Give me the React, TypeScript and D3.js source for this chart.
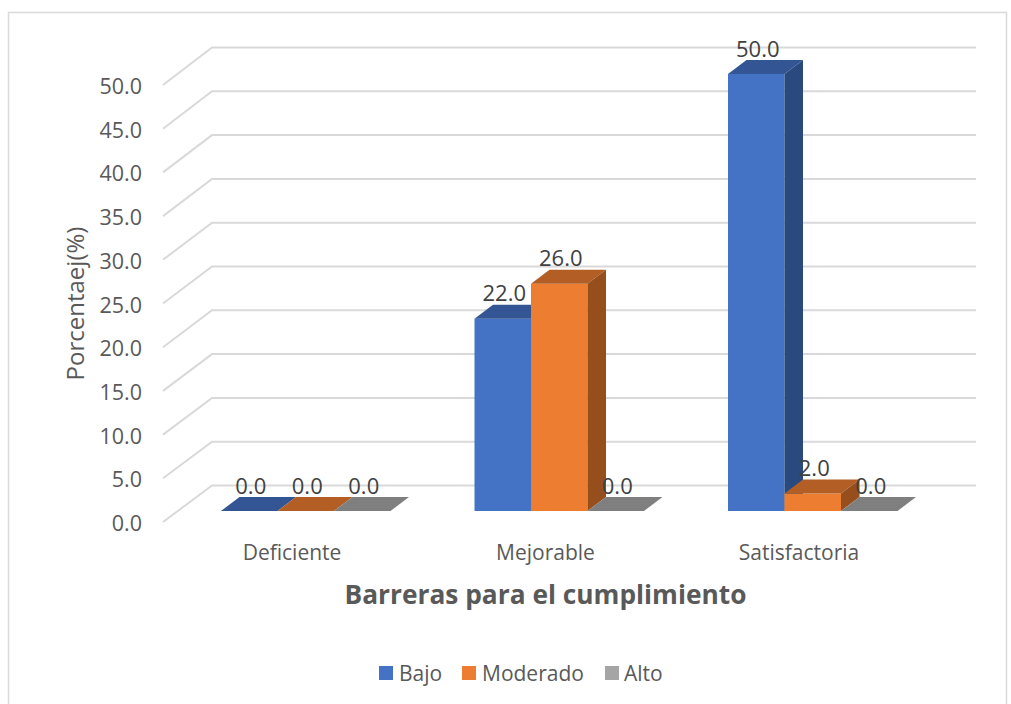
import React from "react";
import * as d3 from "d3";

const categories = ["Deficiente", "Mejorable", "Satisfactoria"];
const seriesNames = ["Bajo", "Moderado", "Alto"];
const bajo = [0, 22, 50];
const moderado = [0, 26, 2];
const alto = [0, 0, 0];
const ticks = [0, 5, 10, 15, 20, 25, 30, 35, 40, 45, 50];
const seriesValues = [bajo, moderado, alto];

const front = ["#4472c4", "#ed7d31", "#a5a5a5"];
const top = ["#335593", "#b25e24", "#7f7f7f"];
const side = ["#2a4a7f", "#964f1c", "#6a6a6a"];
const legendSwatch = ["#4472c4", "#ed7d31", "#a5a5a5"];

const FONT = "'Open Sans', 'Noto Sans', sans-serif";
const TXT = "#595959";
const GRID = "#d9d9d9";

const barY = d3.scaleLinear().domain([0, 50]).range([511, 74]);
const wallY = d3.scaleLinear().domain([0, 50]).range([485.5, 47.5]);
const floorY = d3.scaleLinear().domain([0, 50]).range([522, 85]);
const groupX = d3.scaleBand<string>().domain(categories).range([221, 981.5]).paddingInner(0).paddingOuter(0);
const barW = 56.5;
const dx = 18.5;
const dy = 14;

const poly = (pts: [number, number][]) => pts.map((p) => p.join(",")).join(" ");

const legendPos = [
  { sx: 379, tx: 399 },
  { sx: 462, tx: 482 },
  { sx: 605, tx: 624 },
];

export default function App() {
  return (
    <svg
      width={1011}
      height={704}
      viewBox="0 0 1011 704"
      style={{ position: "absolute", left: 0, top: 0, background: "#fff" }}
    >
      <path d="M8.5 704V12.5H1006.5V704" fill="none" stroke={GRID} strokeWidth={1.5} />
      {ticks.map((t) => (
        <polyline
          key={t}
          points={poly([
            [163, floorY(t)],
            [212, wallY(t)],
            [976, wallY(t)],
          ])}
          fill="none"
          stroke={GRID}
          strokeWidth={2}
        />
      ))}
      {ticks.map((t) => (
        <text key={t} x={142} y={floorY(t) + 9} textAnchor="end" fontFamily={FONT} fontSize={21.5} fill={TXT}>
          {t.toFixed(1)}
        </text>
      ))}
      <text
        transform="translate(84,303.5) rotate(-90)"
        textAnchor="middle"
        fontFamily={FONT}
        fontSize={24}
        fill={TXT}
      >
        Porcentaej(%)
      </text>
      {categories.map((c, ci) =>
        seriesValues.map((vals, si) => {
          const x0 = (groupX(c) as number) + si * barW;
          const x1 = x0 + barW;
          const y0 = barY(0);
          const y1 = barY(vals[ci]);
          return (
            <g key={c + si}>
              {vals[ci] > 0 && (
                <rect x={x0} y={y1} width={barW} height={y0 - y1} fill={front[si]} />
              )}
              <polygon
                points={poly([
                  [x0, y1],
                  [x0 + dx, y1 - dy],
                  [x1 + dx, y1 - dy],
                  [x1, y1],
                ])}
                fill={top[si]}
              />
              {vals[ci] > 0 && (
                <polygon
                  points={poly([
                    [x1, y1],
                    [x1 + dx, y1 - dy],
                    [x1 + dx, y0 - dy],
                    [x1, y0],
                  ])}
                  fill={side[si]}
                />
              )}
            </g>
          );
        })
      )}
      {categories.map((c, ci) =>
        seriesValues.map((vals, si) => (
          <text
            key={c + si}
            x={(groupX(c) as number) + si * barW + barW / 2 + 1.5}
            y={barY(vals[ci]) - dy - 3.5}
            textAnchor="middle"
            fontFamily={FONT}
            fontSize={22}
            fill="#404040"
          >
            {vals[ci].toFixed(1)}
          </text>
        ))
      )}
      {categories.map((c) => (
        <text
          key={c}
          x={(groupX(c) as number) + 71}
          y={559.5}
          textAnchor="middle"
          fontFamily={FONT}
          fontSize={21}
          fill={TXT}
        >
          {c}
        </text>
      ))}
      <text x={545.5} y={604} textAnchor="middle" fontFamily={FONT} fontSize={26.3} fontWeight={700} fill={TXT}>
        Barreras para el cumplimiento
      </text>
      {seriesNames.map((s, i) => (
        <g key={s}>
          <rect x={legendPos[i].sx} y={666} width={14} height={14} fill={legendSwatch[i]} />
          <text x={legendPos[i].tx} y={680.5} fontFamily={FONT} fontSize={21} fill={TXT}>
            {s}
          </text>
        </g>
      ))}
    </svg>
  );
}
